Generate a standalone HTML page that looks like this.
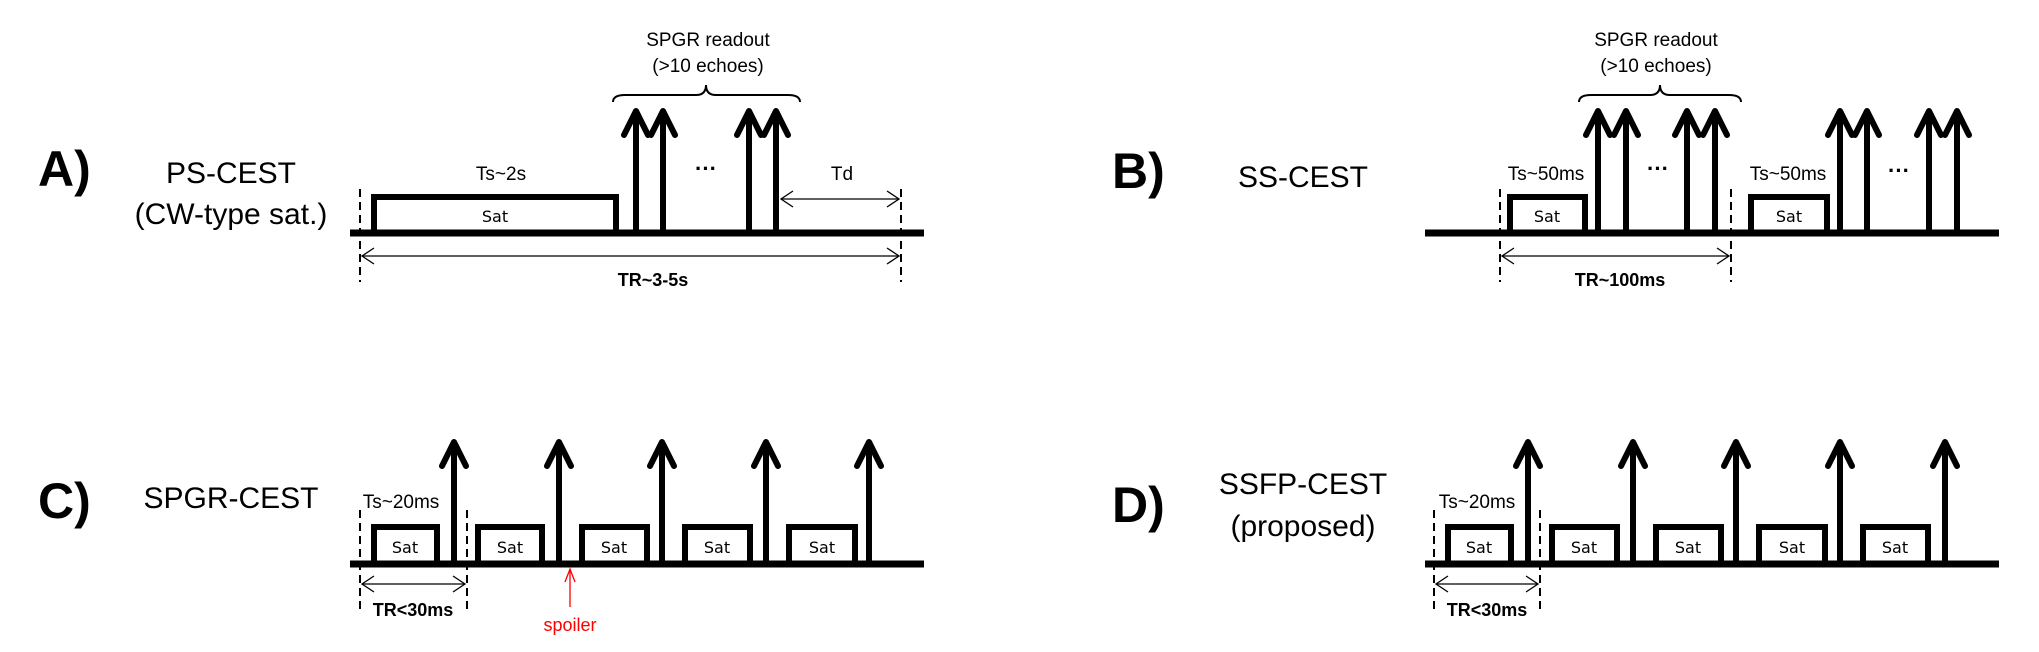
<!DOCTYPE html>
<html><head><meta charset="utf-8"><style>
html,body{margin:0;padding:0;background:#fff;}
svg{display:block;}
text{font-family:"Liberation Sans",Arial,sans-serif;fill:#000;}
.t{font-size:19px;}
.sat{font-size:16px;font-family:"DejaVu Sans","Liberation Sans",sans-serif;}
.b{font-size:18px;font-weight:bold;}
.big{font-size:50px;font-weight:bold;}
.tt{font-size:30px;}
</style></head><body>
<svg width="2039" height="652" viewBox="0 0 2039 652" xmlns="http://www.w3.org/2000/svg">
<defs>
<g id="arr"><line x1="0" y1="0" x2="0" y2="-118" stroke="#000" stroke-width="6"/><polyline points="-12,-95 0,-119 12,-95" fill="none" stroke="#000" stroke-width="6" stroke-linecap="round" stroke-linejoin="round"/></g>
<g id="arrC"><line x1="0" y1="0" x2="0" y2="-119" stroke="#000" stroke-width="6"/><polyline points="-12,-96 0,-120 12,-96" fill="none" stroke="#000" stroke-width="6" stroke-linecap="round" stroke-linejoin="round"/></g>
</defs>

<!-- Panel A -->
<text class="big" x="38" y="186">A)</text>
<text class="tt" x="231" y="183" text-anchor="middle">PS-CEST</text>
<text class="tt" x="231" y="224" text-anchor="middle">(CW-type sat.)</text>
<line x1="350" y1="233" x2="924" y2="233" stroke="#000" stroke-width="7"/>
<polyline points="374,233 374,197 616,197 616,233" fill="none" stroke="#000" stroke-width="6"/>
<text class="sat" x="495" y="222" text-anchor="middle">Sat</text>
<text class="t" x="501" y="180" text-anchor="middle">Ts~2s</text>
<use href="#arr" x="636" y="230"/><use href="#arr" x="663" y="230"/>
<use href="#arr" x="749" y="230"/><use href="#arr" x="776" y="230"/>
<text x="706" y="176" text-anchor="middle" style="font-size:22px;font-weight:bold">···</text>
<text class="t" x="842" y="180" text-anchor="middle">Td</text>
<line x1="360" y1="189" x2="360" y2="282" stroke="#000" stroke-width="2" stroke-dasharray="8,5"/>
<line x1="901" y1="189" x2="901" y2="282" stroke="#000" stroke-width="2" stroke-dasharray="8,5"/>
<line x1="781" y1="199" x2="899" y2="199" stroke="#000" stroke-width="1.3"/>
<polyline points="793,191 781,199 793,207" fill="none" stroke="#000" stroke-width="1.3"/>
<polyline points="887,191 899,199 887,207" fill="none" stroke="#000" stroke-width="1.3"/>
<line x1="362" y1="256" x2="899" y2="256" stroke="#000" stroke-width="1.3"/>
<polyline points="374,248 362,256 374,264" fill="none" stroke="#000" stroke-width="1.3"/>
<polyline points="887,248 899,256 887,264" fill="none" stroke="#000" stroke-width="1.3"/>
<text class="b" x="653" y="286" text-anchor="middle">TR~3-5s</text>
<path d="M613,102 Q613,95 625,95 L696,95 Q706,95 706,85 Q706,95 716,95 L788,95 Q800,95 800,102" fill="none" stroke="#000" stroke-width="2"/>
<text class="t" x="708" y="46" text-anchor="middle">SPGR readout</text>
<text class="t" x="708" y="72" text-anchor="middle">(&gt;10 echoes)</text>

<!-- Panel B -->
<text class="big" x="1112" y="188">B)</text>
<text class="tt" x="1303" y="187" text-anchor="middle">SS-CEST</text>
<line x1="1425" y1="233" x2="1999" y2="233" stroke="#000" stroke-width="7"/>
<polyline points="1510,233 1510,197 1585,197 1585,233" fill="none" stroke="#000" stroke-width="6"/>
<text class="sat" x="1547" y="222" text-anchor="middle">Sat</text>
<polyline points="1751,233 1751,197 1827,197 1827,233" fill="none" stroke="#000" stroke-width="6"/>
<text class="sat" x="1789" y="222" text-anchor="middle">Sat</text>
<text class="t" x="1546" y="180" text-anchor="middle">Ts~50ms</text>
<text class="t" x="1788" y="180" text-anchor="middle">Ts~50ms</text>
<use href="#arr" x="1598" y="230"/><use href="#arr" x="1626" y="230"/>
<use href="#arr" x="1687" y="230"/><use href="#arr" x="1715" y="230"/>
<use href="#arr" x="1840" y="230"/><use href="#arr" x="1867" y="230"/>
<use href="#arr" x="1929" y="230"/><use href="#arr" x="1957" y="230"/>
<text x="1658" y="176" text-anchor="middle" style="font-size:22px;font-weight:bold">···</text>
<text x="1899" y="178" text-anchor="middle" style="font-size:22px;font-weight:bold">···</text>
<line x1="1500" y1="189" x2="1500" y2="282" stroke="#000" stroke-width="2" stroke-dasharray="8,5"/>
<line x1="1731" y1="189" x2="1731" y2="282" stroke="#000" stroke-width="2" stroke-dasharray="8,5"/>
<line x1="1502" y1="256" x2="1729" y2="256" stroke="#000" stroke-width="1.3"/>
<polyline points="1514,248 1502,256 1514,264" fill="none" stroke="#000" stroke-width="1.3"/>
<polyline points="1717,248 1729,256 1717,264" fill="none" stroke="#000" stroke-width="1.3"/>
<text class="b" x="1620" y="286" text-anchor="middle">TR~100ms</text>
<path d="M1579,102 Q1579,95 1591,95 L1650,95 Q1660,95 1660,85 Q1660,95 1670,95 L1729,95 Q1741,95 1741,102" fill="none" stroke="#000" stroke-width="2"/>
<text class="t" x="1656" y="46" text-anchor="middle">SPGR readout</text>
<text class="t" x="1656" y="72" text-anchor="middle">(&gt;10 echoes)</text>

<!-- Panel C -->
<text class="big" x="38" y="518">C)</text>
<text class="tt" x="231" y="508" text-anchor="middle">SPGR-CEST</text>
<line x1="350" y1="564" x2="924" y2="564" stroke="#000" stroke-width="7"/>
<g fill="none" stroke="#000" stroke-width="6">
<polyline points="374,564 374,527 437,527 437,564"/>
<polyline points="478,564 478,527 542,527 542,564"/>
<polyline points="582,564 582,527 647,527 647,564"/>
<polyline points="685,564 685,527 750,527 750,564"/>
<polyline points="789,564 789,527 855,527 855,564"/>
</g>
<g class="sat" text-anchor="middle">
<text class="sat" x="405" y="553">Sat</text><text class="sat" x="510" y="553">Sat</text>
<text class="sat" x="614" y="553">Sat</text><text class="sat" x="717" y="553">Sat</text>
<text class="sat" x="822" y="553">Sat</text>
</g>
<use href="#arrC" x="454" y="562"/><use href="#arrC" x="559" y="562"/>
<use href="#arrC" x="662" y="562"/><use href="#arrC" x="766" y="562"/>
<use href="#arrC" x="869" y="562"/>
<text class="t" x="401" y="508" text-anchor="middle">Ts~20ms</text>
<line x1="360" y1="510" x2="360" y2="614" stroke="#000" stroke-width="2" stroke-dasharray="8,5"/>
<line x1="467" y1="510" x2="467" y2="614" stroke="#000" stroke-width="2" stroke-dasharray="8,5"/>
<line x1="362" y1="584" x2="465" y2="584" stroke="#000" stroke-width="1.3"/>
<polyline points="374,576 362,584 374,592" fill="none" stroke="#000" stroke-width="1.3"/>
<polyline points="453,576 465,584 453,592" fill="none" stroke="#000" stroke-width="1.3"/>
<text class="b" x="413" y="616" text-anchor="middle">TR&lt;30ms</text>
<line x1="570" y1="569" x2="570" y2="607" stroke="#f00" stroke-width="1.3"/>
<polyline points="565,582 570,569 575,582" fill="none" stroke="#f00" stroke-width="1.3"/>
<text x="570" y="631" text-anchor="middle" style="font-size:18px;fill:#f00">spoiler</text>

<!-- Panel D -->
<text class="big" x="1112" y="522">D)</text>
<text class="tt" x="1303" y="494" text-anchor="middle">SSFP-CEST</text>
<text class="tt" x="1303" y="536" text-anchor="middle">(proposed)</text>
<line x1="1425" y1="564" x2="1999" y2="564" stroke="#000" stroke-width="7"/>
<g fill="none" stroke="#000" stroke-width="6">
<polyline points="1448,564 1448,527 1511,527 1511,564"/>
<polyline points="1552,564 1552,527 1617,527 1617,564"/>
<polyline points="1656,564 1656,527 1721,527 1721,564"/>
<polyline points="1759,564 1759,527 1825,527 1825,564"/>
<polyline points="1863,564 1863,527 1928,527 1928,564"/>
</g>
<text class="sat" x="1479" y="553" text-anchor="middle">Sat</text>
<text class="sat" x="1584" y="553" text-anchor="middle">Sat</text>
<text class="sat" x="1688" y="553" text-anchor="middle">Sat</text>
<text class="sat" x="1792" y="553" text-anchor="middle">Sat</text>
<text class="sat" x="1895" y="553" text-anchor="middle">Sat</text>
<use href="#arrC" x="1528" y="562"/><use href="#arrC" x="1633" y="562"/>
<use href="#arrC" x="1736" y="562"/><use href="#arrC" x="1840" y="562"/>
<use href="#arrC" x="1945" y="562"/>
<text class="t" x="1477" y="508" text-anchor="middle">Ts~20ms</text>
<line x1="1434" y1="510" x2="1434" y2="614" stroke="#000" stroke-width="2" stroke-dasharray="8,5"/>
<line x1="1540" y1="510" x2="1540" y2="614" stroke="#000" stroke-width="2" stroke-dasharray="8,5"/>
<line x1="1436" y1="584" x2="1538" y2="584" stroke="#000" stroke-width="1.3"/>
<polyline points="1448,576 1436,584 1448,592" fill="none" stroke="#000" stroke-width="1.3"/>
<polyline points="1526,576 1538,584 1526,592" fill="none" stroke="#000" stroke-width="1.3"/>
<text class="b" x="1487" y="616" text-anchor="middle">TR&lt;30ms</text>
</svg>
</body></html>
